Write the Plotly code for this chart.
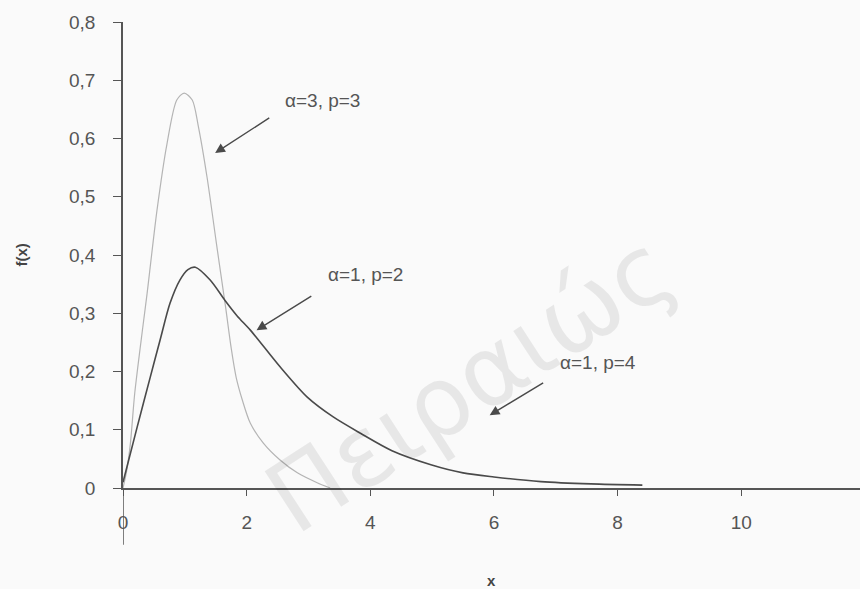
import plotly.graph_objects as go

# Gamma density curves f(x) read at sample points
x_a3p3 = [0, 0.06, 0.12, 0.19, 0.32, 0.39, 0.55, 0.71, 0.87, 0.99, 1.12, 1.22,
          1.36, 1.52, 1.66, 1.75, 1.83, 1.93, 2.06, 2.27, 2.54, 2.82, 3.14, 3.35]
y_a3p3 = [0, 0.03, 0.077, 0.163, 0.276, 0.334, 0.477, 0.59, 0.666, 0.678, 0.666, 0.62,
          0.533, 0.413, 0.31, 0.24, 0.19, 0.151, 0.111, 0.077, 0.048, 0.026, 0.009, 0.0]

x_a1p2 = [0, 0.23, 0.44, 0.6, 0.76, 0.92, 1.05, 1.17, 1.41, 1.65, 1.85, 2.06, 2.54,
          2.98, 3.4, 3.84, 4.35, 4.98, 5.5, 6.0, 6.76, 7.57, 8.4]
y_a1p2 = [0.01, 0.105, 0.19, 0.254, 0.317, 0.357, 0.375, 0.379, 0.357, 0.322, 0.295,
          0.271, 0.208, 0.156, 0.122, 0.094, 0.064, 0.04, 0.026, 0.019, 0.011, 0.007, 0.005]

x_ticks = [0, 2, 4, 6, 8, 10]
y_ticks = [0, 0.1, 0.2, 0.3, 0.4, 0.5, 0.6, 0.7, 0.8]
y_tick_text = ["0", "0,1", "0,2", "0,3", "0,4", "0,5", "0,6", "0,7", "0,8"]

# Curve labels: (text, label x, label y, arrow tail x, tail y, arrow tip x, tip y)
labels = [
    ("α=3, p=3", 2.58, 0.666, 2.39, 0.637, 1.49, 0.575),
    ("α=1, p=2", 3.28, 0.366, 3.07, 0.331, 2.16, 0.271),
    ("α=1, p=4", 7.03, 0.215, 6.82, 0.182, 5.93, 0.125),
]

ink = "#555555"
font_family = "Liberation Sans, Arial, sans-serif"

fig = go.Figure()
fig.add_trace(go.Scatter(x=x_a3p3, y=y_a3p3, mode="lines",
                         line=dict(color="#b4b4b4", width=1.2, shape="spline", smoothing=0.8),
                         showlegend=False))
fig.add_trace(go.Scatter(x=x_a1p2, y=y_a1p2, mode="lines",
                         line=dict(color="#4a4a4a", width=1.6, shape="spline", smoothing=0.8),
                         showlegend=False))

annotations = []
for text, lx, ly, tx, ty, hx, hy in labels:
    annotations.append(dict(x=lx, y=ly, xref="x", yref="y", text=text, showarrow=False,
                            xanchor="left", yanchor="middle",
                            font=dict(family=font_family, size=19, color=ink)))
    annotations.append(dict(x=hx, y=hy, xref="x", yref="y", ax=tx, ay=ty,
                            axref="x", ayref="y", text="", showarrow=True,
                            arrowhead=2, arrowsize=1.4, arrowwidth=1.4,
                            arrowcolor="#4a4a4a"))

# faint diagonal watermark
annotations.append(dict(x=5.6, y=0.18, xref="x", yref="y", text="Πειραιώς",
                        showarrow=False, textangle=-33,
                        font=dict(family="DejaVu Sans, sans-serif", size=98,
                                  color="rgba(0,0,0,0.075)")))

# axis titles
annotations.append(dict(x=0, y=0.5, xref="paper", yref="paper", text="<b>f(x)</b>",
                        showarrow=False, textangle=-90, xshift=-113,
                        font=dict(family=font_family, size=15, color="#444444")))
annotations.append(dict(x=0.5, y=0, xref="paper", yref="paper", text="<b>x</b>",
                        showarrow=False, yshift=-103,
                        font=dict(family=font_family, size=15, color="#444444")))

shapes = [
    # y axis continues below the x axis
    dict(type="line", xref="x", yref="paper", x0=0, x1=0, y0=0, y1=-0.122,
         line=dict(color=ink, width=1.5)),
]

fig.update_layout(
    width=860, height=589,
    margin=dict(l=123, r=0, t=22, b=101),
    paper_bgcolor="#fafafa", plot_bgcolor="#fafafa",
    separators=",.",
    showlegend=False,
    annotations=annotations,
    shapes=shapes,
    xaxis=dict(range=[0, 11.92], tickvals=x_ticks, ticktext=[str(v) for v in x_ticks],
               showgrid=False, zeroline=False, showline=True, linecolor=ink, linewidth=1.5,
               ticks="outside", ticklen=6, tickwidth=1.3, tickcolor=ink,
               ticklabelstandoff=10,
               tickfont=dict(family=font_family, size=19, color=ink)),
    yaxis=dict(range=[0, 0.8], tickvals=y_ticks, ticktext=y_tick_text,
               showgrid=False, zeroline=False, showline=True, linecolor=ink, linewidth=1.5,
               ticks="outside", ticklen=8, tickwidth=1.3, tickcolor=ink,
               ticklabelstandoff=14,
               tickfont=dict(family=font_family, size=19, color=ink)),
)

fig.write_html("out.html")
